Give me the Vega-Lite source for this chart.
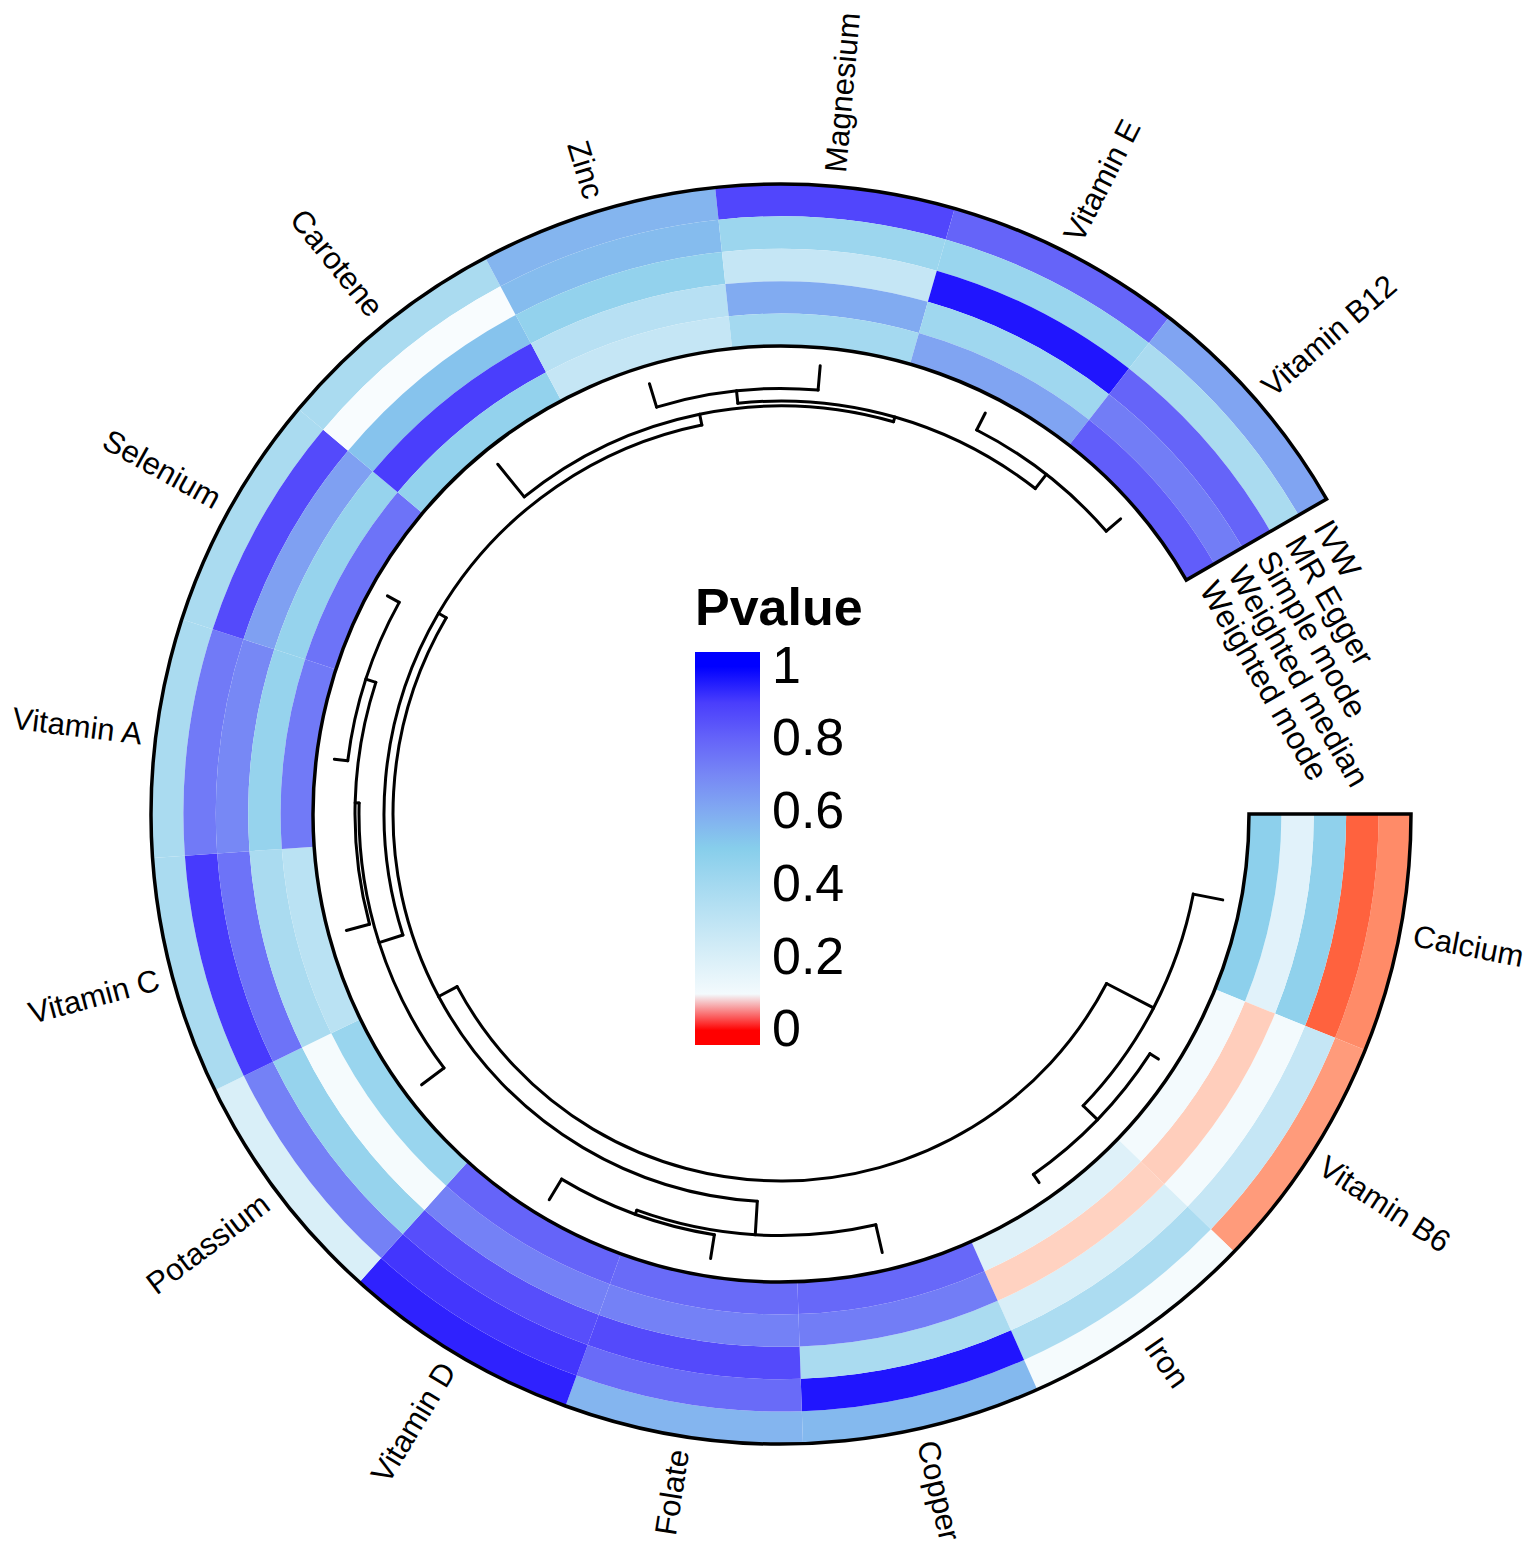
{
  "$schema": "https://vega.github.io/schema/vega-lite/v6.json",
  "width": 1508,
  "height": 1484,
  "autosize": {"type": "none"},
  "padding": {"left": 27, "top": 72, "right": 0, "bottom": 0},
  "background": "white",
  "config": {"view": {"stroke": null}, "font": "Liberation Sans"},
  "datasets": {
    "heat": [
      {"nutrient": "Calcium", "method": "IVW", "p": 0.02},
      {"nutrient": "Calcium", "method": "MR Egger", "p": 0.011},
      {"nutrient": "Calcium", "method": "Simple mode", "p": 0.47},
      {"nutrient": "Calcium", "method": "Weighted median", "p": 0.17},
      {"nutrient": "Calcium", "method": "Weighted mode", "p": 0.48},
      {"nutrient": "Vitamin B6", "method": "IVW", "p": 0.024},
      {"nutrient": "Vitamin B6", "method": "MR Egger", "p": 0.28},
      {"nutrient": "Vitamin B6", "method": "Simple mode", "p": 0.1},
      {"nutrient": "Vitamin B6", "method": "Weighted median", "p": 0.037},
      {"nutrient": "Vitamin B6", "method": "Weighted mode", "p": 0.1},
      {"nutrient": "Iron", "method": "IVW", "p": 0.09},
      {"nutrient": "Iron", "method": "MR Egger", "p": 0.37},
      {"nutrient": "Iron", "method": "Simple mode", "p": 0.2},
      {"nutrient": "Iron", "method": "Weighted median", "p": 0.038},
      {"nutrient": "Iron", "method": "Weighted mode", "p": 0.18},
      {"nutrient": "Copper", "method": "IVW", "p": 0.56},
      {"nutrient": "Copper", "method": "MR Egger", "p": 0.98},
      {"nutrient": "Copper", "method": "Simple mode", "p": 0.38},
      {"nutrient": "Copper", "method": "Weighted median", "p": 0.73},
      {"nutrient": "Copper", "method": "Weighted mode", "p": 0.79},
      {"nutrient": "Folate", "method": "IVW", "p": 0.57},
      {"nutrient": "Folate", "method": "MR Egger", "p": 0.78},
      {"nutrient": "Folate", "method": "Simple mode", "p": 0.87},
      {"nutrient": "Folate", "method": "Weighted median", "p": 0.72},
      {"nutrient": "Folate", "method": "Weighted mode", "p": 0.78},
      {"nutrient": "Vitamin D", "method": "IVW", "p": 0.96},
      {"nutrient": "Vitamin D", "method": "MR Egger", "p": 0.92},
      {"nutrient": "Vitamin D", "method": "Simple mode", "p": 0.86},
      {"nutrient": "Vitamin D", "method": "Weighted median", "p": 0.72},
      {"nutrient": "Vitamin D", "method": "Weighted mode", "p": 0.8},
      {"nutrient": "Potassium", "method": "IVW", "p": 0.2},
      {"nutrient": "Potassium", "method": "MR Egger", "p": 0.72},
      {"nutrient": "Potassium", "method": "Simple mode", "p": 0.45},
      {"nutrient": "Potassium", "method": "Weighted median", "p": 0.09},
      {"nutrient": "Potassium", "method": "Weighted mode", "p": 0.44},
      {"nutrient": "Vitamin C", "method": "IVW", "p": 0.38},
      {"nutrient": "Vitamin C", "method": "MR Egger", "p": 0.91},
      {"nutrient": "Vitamin C", "method": "Simple mode", "p": 0.76},
      {"nutrient": "Vitamin C", "method": "Weighted median", "p": 0.38},
      {"nutrient": "Vitamin C", "method": "Weighted mode", "p": 0.32},
      {"nutrient": "Vitamin A", "method": "IVW", "p": 0.38},
      {"nutrient": "Vitamin A", "method": "MR Egger", "p": 0.74},
      {"nutrient": "Vitamin A", "method": "Simple mode", "p": 0.7},
      {"nutrient": "Vitamin A", "method": "Weighted median", "p": 0.45},
      {"nutrient": "Vitamin A", "method": "Weighted mode", "p": 0.74},
      {"nutrient": "Selenium", "method": "IVW", "p": 0.38},
      {"nutrient": "Selenium", "method": "MR Egger", "p": 0.87},
      {"nutrient": "Selenium", "method": "Simple mode", "p": 0.63},
      {"nutrient": "Selenium", "method": "Weighted median", "p": 0.45},
      {"nutrient": "Selenium", "method": "Weighted mode", "p": 0.76},
      {"nutrient": "Carotene", "method": "IVW", "p": 0.38},
      {"nutrient": "Carotene", "method": "MR Egger", "p": 0.08},
      {"nutrient": "Carotene", "method": "Simple mode", "p": 0.53},
      {"nutrient": "Carotene", "method": "Weighted median", "p": 0.9},
      {"nutrient": "Carotene", "method": "Weighted mode", "p": 0.46},
      {"nutrient": "Zinc", "method": "IVW", "p": 0.57},
      {"nutrient": "Zinc", "method": "MR Egger", "p": 0.55},
      {"nutrient": "Zinc", "method": "Simple mode", "p": 0.46},
      {"nutrient": "Zinc", "method": "Weighted median", "p": 0.33},
      {"nutrient": "Zinc", "method": "Weighted mode", "p": 0.28},
      {"nutrient": "Magnesium", "method": "IVW", "p": 0.88},
      {"nutrient": "Magnesium", "method": "MR Egger", "p": 0.43},
      {"nutrient": "Magnesium", "method": "Simple mode", "p": 0.28},
      {"nutrient": "Magnesium", "method": "Weighted median", "p": 0.6},
      {"nutrient": "Magnesium", "method": "Weighted mode", "p": 0.4},
      {"nutrient": "Vitamin E", "method": "IVW", "p": 0.8},
      {"nutrient": "Vitamin E", "method": "MR Egger", "p": 0.44},
      {"nutrient": "Vitamin E", "method": "Simple mode", "p": 0.98},
      {"nutrient": "Vitamin E", "method": "Weighted median", "p": 0.42},
      {"nutrient": "Vitamin E", "method": "Weighted mode", "p": 0.62},
      {"nutrient": "Vitamin B12", "method": "IVW", "p": 0.62},
      {"nutrient": "Vitamin B12", "method": "MR Egger", "p": 0.38},
      {"nutrient": "Vitamin B12", "method": "Simple mode", "p": 0.8},
      {"nutrient": "Vitamin B12", "method": "Weighted median", "p": 0.73},
      {"nutrient": "Vitamin B12", "method": "Weighted mode", "p": 0.82}
    ],
    "radial": [
      {"node": "Calcium", "x": 0, "h": 0, "hp": 30},
      {"node": "Vitamin B6", "x": 1, "h": 0, "hp": 10},
      {"node": "Iron", "x": 2, "h": 0, "hp": 10},
      {"node": "Copper", "x": 3, "h": 0, "hp": 28.4},
      {"node": "Folate", "x": 4, "h": 0, "hp": 24},
      {"node": "Vitamin D", "x": 5, "h": 0, "hp": 24},
      {"node": "Potassium", "x": 6, "h": 0, "hp": 28},
      {"node": "Vitamin C", "x": 7, "h": 0, "hp": 24},
      {"node": "Vitamin A", "x": 8, "h": 0, "hp": 13.5},
      {"node": "Selenium", "x": 9, "h": 0, "hp": 13.5},
      {"node": "Carotene", "x": 10, "h": 0, "hp": 42},
      {"node": "Zinc", "x": 11, "h": 0, "hp": 24.5},
      {"node": "Magnesium", "x": 12, "h": 0, "hp": 24.5},
      {"node": "Vitamin E", "x": 13, "h": 0, "hp": 19},
      {"node": "Vitamin B12", "x": 14, "h": 0, "hp": 19},
      {"node": "n1", "x": 1.5, "h": 10, "hp": 30},
      {"node": "n2", "x": 0.75, "h": 30, "hp": 83},
      {"node": "n3", "x": 4.5, "h": 24, "hp": 28.4},
      {"node": "n4", "x": 3.75, "h": 28.4, "hp": 62},
      {"node": "n5", "x": 8.5, "h": 13.5, "hp": 24},
      {"node": "n6", "x": 7.75, "h": 24, "hp": 28},
      {"node": "n7", "x": 6.875, "h": 28, "hp": 53},
      {"node": "n8", "x": 11.5, "h": 24.5, "hp": 37},
      {"node": "n9", "x": 13.5, "h": 19, "hp": 37},
      {"node": "n10", "x": 12.5, "h": 37, "hp": 42},
      {"node": "n11", "x": 11.25, "h": 42, "hp": 53},
      {"node": "n12", "x": 9.0625, "h": 53, "hp": 62},
      {"node": "n13", "x": 6.40625, "h": 62, "hp": 83}
    ],
    "merge": [
      {"node": "n1", "x1": 1, "x2": 2, "h": 10},
      {"node": "n2", "x1": 0, "x2": 1.5, "h": 30},
      {"node": "n3", "x1": 4, "x2": 5, "h": 24},
      {"node": "n4", "x1": 3, "x2": 4.5, "h": 28.4},
      {"node": "n5", "x1": 8, "x2": 9, "h": 13.5},
      {"node": "n6", "x1": 7, "x2": 8.5, "h": 24},
      {"node": "n7", "x1": 6, "x2": 7.75, "h": 28},
      {"node": "n8", "x1": 11, "x2": 12, "h": 24.5},
      {"node": "n9", "x1": 13, "x2": 14, "h": 19},
      {"node": "n10", "x1": 11.5, "x2": 13.5, "h": 37},
      {"node": "n11", "x1": 10, "x2": 12.5, "h": 42},
      {"node": "n12", "x1": 6.875, "x2": 11.25, "h": 53},
      {"node": "n13", "x1": 3.75, "x2": 9.0625, "h": 62},
      {"node": "root", "x1": 0.75, "x2": 6.40625, "h": 83}
    ],
    "methods": [
      {"method": "IVW"},
      {"method": "MR Egger"},
      {"method": "Simple mode"},
      {"method": "Weighted median"},
      {"method": "Weighted mode"}
    ]
  },
  "layer": [
    {
      "data": {"name": "heat"},
      "mark": {"type": "arc"},
      "encoding": {
        "theta": {
          "field": "nutrient", "type": "nominal",
          "scale": {"type": "band", "domain": ["Calcium", "Vitamin B6", "Iron", "Copper", "Folate", "Vitamin D", "Potassium", "Vitamin C", "Vitamin A", "Selenium", "Carotene", "Zinc", "Magnesium", "Vitamin E", "Vitamin B12"], "range": [1.5707963, 7.3303829], "paddingInner": 0, "paddingOuter": 0}
        },
        "radius": {
          "field": "method", "type": "nominal",
          "scale": {"type": "band", "domain": ["Weighted mode", "Weighted median", "Simple mode", "MR Egger", "IVW"], "range": [468, 630], "paddingInner": 0, "paddingOuter": 0}
        },
        "fill": {
          "field": "p", "type": "quantitative", "title": "Pvalue",
          "scale": {"type": "linear", "domain": [-0.04, 0, 0.05, 0.5, 1, 1.04], "range": ["#ff0000", "#ff0000", "#ffffff", "#87ceeb", "#0000ff", "#0000ff"], "interpolate": "lab", "clamp": true},
          "legend": {
            "type": "gradient",
            "orient": "none", "legendX": 668, "legendY": 512, "direction": "vertical",
            "gradientLength": 393, "gradientThickness": 65, "gradientStrokeWidth": 0,
            "values": [0, 0.2, 0.4, 0.6, 0.8, 1], "format": "~g",
            "labelFontSize": 52, "labelFont": "Liberation Sans", "labelColor": "black", "labelOffset": 12, "labelOverlap": false,
            "titleFontSize": 52, "titleFont": "Liberation Sans", "titleFontWeight": "bold", "titleColor": "black", "titlePadding": 16, "padding": 0
          }
        }
      }
    },
    {
      "data": {"values": [{}]},
      "mark": {"type": "arc", "filled": false, "stroke": "black", "strokeWidth": 3.5},
      "encoding": {
        "theta": {"datum": -0.5, "type": "quantitative", "scale": {"type": "linear", "domain": [-0.5, 14.5], "range": [1.5707963, 7.3303829]}},
        "theta2": {"datum": 14.5},
        "radius": {"datum": 0, "type": "quantitative", "scale": {"type": "linear", "domain": [0, 5], "range": [468, 630]}},
        "radius2": {"datum": 5}
      }
    },
    {
      "data": {"name": "radial"},
      "mark": {"type": "arc", "filled": false, "stroke": "black", "strokeWidth": 3, "strokeJoin": "round"},
      "encoding": {
        "theta": {"field": "x", "type": "quantitative", "scale": {"type": "linear", "domain": [-0.5, 14.5], "range": [1.5707963, 7.3303829]}},
        "theta2": {"field": "x"},
        "radius": {"field": "h", "type": "quantitative", "scale": {"type": "linear", "domain": [0, 83], "range": [450, 367]}},
        "radius2": {"field": "hp"}
      }
    },
    {
      "data": {"name": "merge"},
      "mark": {"type": "arc", "filled": false, "stroke": "black", "strokeWidth": 3, "strokeJoin": "round"},
      "encoding": {
        "theta": {"field": "x1", "type": "quantitative", "scale": {"type": "linear", "domain": [-0.5, 14.5], "range": [1.5707963, 7.3303829]}},
        "theta2": {"field": "x2"},
        "radius": {"field": "h", "type": "quantitative", "scale": {"type": "linear", "domain": [0, 83], "range": [450, 367]}},
        "radius2": {"field": "h"}
      }
    },
    {
      "data": {"name": "heat"},
      "transform": [
        {"filter": {"field": "method", "equal": "IVW"}},
        {"filter": {"field": "nutrient", "oneOf": ["Calcium", "Vitamin B6", "Iron", "Copper", "Magnesium", "Vitamin E", "Vitamin B12"]}}
      ],
      "mark": {"type": "text", "align": "left", "baseline": "middle", "fontSize": 31, "font": "Liberation Sans", "color": "black", "radiusOffset": 14},
      "encoding": {
        "theta": {
          "field": "nutrient", "type": "nominal", "bandPosition": 0.5,
          "scale": {"type": "band", "domain": ["Calcium", "Vitamin B6", "Iron", "Copper", "Folate", "Vitamin D", "Potassium", "Vitamin C", "Vitamin A", "Selenium", "Carotene", "Zinc", "Magnesium", "Vitamin E", "Vitamin B12"], "range": [1.5707963, 7.3303829], "paddingInner": 0, "paddingOuter": 0}
        },
        "radius": {
          "datum": "IVW", "type": "nominal", "bandPosition": 1,
          "scale": {"type": "band", "domain": ["Weighted mode", "Weighted median", "Simple mode", "MR Egger", "IVW"], "range": [468, 630], "paddingInner": 0, "paddingOuter": 0}
        },
        "text": {"field": "nutrient"},
        "angle": {
          "field": "nutrient", "type": "nominal", "legend": null,
          "scale": {"type": "ordinal", "domain": ["Calcium", "Vitamin B6", "Iron", "Copper", "Magnesium", "Vitamin E", "Vitamin B12"], "range": [11, 33, 55, 77, -85, -63, -41]}
        }
      }
    },
    {
      "data": {"name": "heat"},
      "transform": [
        {"filter": {"field": "method", "equal": "IVW"}},
        {"filter": {"field": "nutrient", "oneOf": ["Folate", "Vitamin D", "Potassium", "Vitamin C", "Vitamin A", "Selenium", "Carotene", "Zinc"]}}
      ],
      "mark": {"type": "text", "align": "right", "baseline": "middle", "fontSize": 31, "font": "Liberation Sans", "color": "black", "radiusOffset": 14},
      "encoding": {
        "theta": {
          "field": "nutrient", "type": "nominal", "bandPosition": 0.5,
          "scale": {"type": "band", "domain": ["Calcium", "Vitamin B6", "Iron", "Copper", "Folate", "Vitamin D", "Potassium", "Vitamin C", "Vitamin A", "Selenium", "Carotene", "Zinc", "Magnesium", "Vitamin E", "Vitamin B12"], "range": [1.5707963, 7.3303829], "paddingInner": 0, "paddingOuter": 0}
        },
        "radius": {
          "datum": "IVW", "type": "nominal", "bandPosition": 1,
          "scale": {"type": "band", "domain": ["Weighted mode", "Weighted median", "Simple mode", "MR Egger", "IVW"], "range": [468, 630], "paddingInner": 0, "paddingOuter": 0}
        },
        "text": {"field": "nutrient"},
        "angle": {
          "field": "nutrient", "type": "nominal", "legend": null,
          "scale": {"type": "ordinal", "domain": ["Folate", "Vitamin D", "Potassium", "Vitamin C", "Vitamin A", "Selenium", "Carotene", "Zinc"], "range": [-81, -59, -37, -15, 7, 29, 51, 73]}
        }
      }
    },
    {
      "data": {"name": "methods"},
      "mark": {"type": "text", "align": "left", "baseline": "middle", "fontSize": 32, "font": "Liberation Sans", "color": "black", "angle": 60, "thetaOffset": 0.03},
      "encoding": {
        "theta": {
          "datum": "Vitamin B12", "type": "nominal", "bandPosition": 1,
          "scale": {"type": "band", "domain": ["Calcium", "Vitamin B6", "Iron", "Copper", "Folate", "Vitamin D", "Potassium", "Vitamin C", "Vitamin A", "Selenium", "Carotene", "Zinc", "Magnesium", "Vitamin E", "Vitamin B12"], "range": [1.5707963, 7.3303829], "paddingInner": 0, "paddingOuter": 0}
        },
        "radius": {
          "field": "method", "type": "nominal", "bandPosition": 0.5,
          "scale": {"type": "band", "domain": ["Weighted mode", "Weighted median", "Simple mode", "MR Egger", "IVW"], "range": [468, 630], "paddingInner": 0, "paddingOuter": 0}
        },
        "text": {"field": "method"}
      }
    }
  ],
  "resolve": {"scale": {"theta": "independent", "radius": "independent", "angle": "independent"}}
}
